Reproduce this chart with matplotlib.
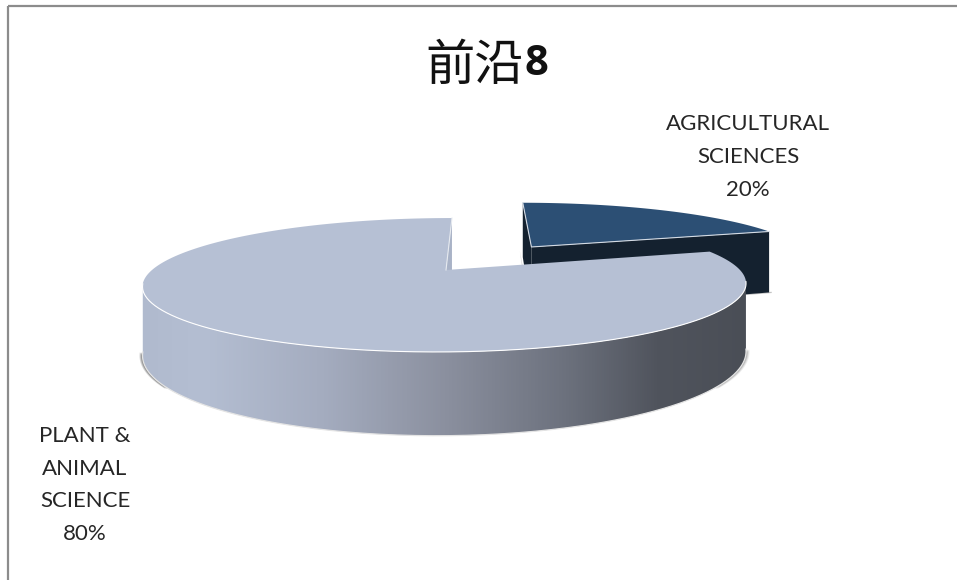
"""Exploded 3-D style pie of the 前沿8 subject split, drawn on a flat pixel canvas."""
from __future__ import annotations

import numpy as np
import matplotlib

matplotlib.use("Agg")
import matplotlib.pyplot as plt
from matplotlib.colors import LinearSegmentedColormap
from matplotlib.patches import Polygon

categories = ["AGRICULTURAL\nSCIENCES", "PLANT &\nANIMAL\nSCIENCE"]
shares = [20, 80]
title_zh = "前沿"
title_num = "8"

# projection of the pie disc onto the canvas (pixels)
X0, Y0 = 446.0, 270.0
RX, RY = 294.0, 63.6
SHEAR = -7.3
PERSP = 0.224
DEPTH = 65.0
EXPLODE = 0.51
SLICE_NUDGE = np.array([2.0, 1.0])
SLICE_EXTRA_DROP = np.array([0.0, 5.0])

TOP_DARK = "#2c4f74"
WALL_DARK = "#14212f"
TOP_LIGHT = "#b6c0d4"
NOTCH = "#a9b3c7"
FRAME = "#8c8c8c"
INK = "#262626"

LABEL_FONT = ["Lato", "DejaVu Sans"]
CJK_FONT = ["Noto Sans CJK SC", "DejaVu Sans"]

fig = plt.figure(figsize=(9.57, 5.8), dpi=100)
ax = fig.add_axes([0, 0, 1, 1])
ax.set_xlim(0, 957)
ax.set_ylim(580, 0)
ax.axis("off")


def project(u, v, drop=False):
    """Disc coordinates (u right, v toward viewer) to canvas pixels."""
    u, v = np.asarray(u, float), np.asarray(v, float)
    w = 1 - PERSP * v
    x = X0 + (RX * u + SHEAR * v) / w
    y = Y0 + RY * v / w
    if drop:
        y = y + DEPTH / w
    return np.column_stack([x, y])


def rim(t0, t1, cu=0.0, cv=0.0, n=240):
    """Rim points between two clockwise-from-top angles in degrees."""
    t = np.radians(np.linspace(t0, t1, n))
    return cu + np.sin(t), cv - np.cos(t)


def poly(pts, color, z, **kw):
    ax.add_patch(Polygon(pts, closed=True, fc=color, ec=kw.pop("ec", "none"), zorder=z, **kw))


small_end = 360.0 * shares[0] / sum(shares)
mid = np.radians(small_end / 2)
cu, cv = EXPLODE * np.sin(mid), -EXPLODE * np.cos(mid)

# ---- exploded slice --------------------------------------------------------
uu, vv = rim(0, small_end, cu, cv)
apex_top = project([cu], [cv]) + SLICE_NUDGE
apex_low = project([cu], [cv], drop=True) + SLICE_NUDGE + SLICE_EXTRA_DROP
rim_top = project(uu, vv) + SLICE_NUDGE
rim_low = project(uu, vv, drop=True) + SLICE_NUDGE + SLICE_EXTRA_DROP

poly(np.vstack([rim_top[:1] + [-3, 48], apex_low + [-3, 2], apex_low]), "#b8b8b8", 1, alpha=0.6)
poly(np.vstack([rim_top[:1], apex_top, apex_low, rim_low[:1]]), WALL_DARK, 2)
poly(np.vstack([apex_top, rim_top[-1:], rim_low[-1:], apex_low]), WALL_DARK, 2)
ax.plot(*np.vstack([rim_low[-1:] + [2, 0], apex_low]).T, color="#c4c4c4", lw=0.9, zorder=1.5)
poly(np.vstack([apex_top, rim_top]), TOP_DARK, 3)
ax.plot(*np.vstack([rim_top[:1], apex_top, rim_top[-1:]]).T, color="#d4dbe4", lw=0.8, zorder=4)

# ---- large slice: notch wall, gradient rim, top face -----------------------
uu, vv = rim(small_end, 360)
centre = project([0], [0])
centre_low = project([0], [0], drop=True)
main_top = project(uu, vv)
corner = project([0], [-1])
corner_low = project([0], [-1], drop=True)
poly(np.vstack([corner, centre, centre_low, corner_low]), NOTCH, 5)

front_u, front_v = rim(100, 258)
front_top = project(front_u, front_v)
front_low = project(front_u, front_v, drop=True)

# soft contact shadow peeking out around the lower rim
right_low = front_low[front_u > 0.80]
for off, alpha in [((3.5, 0.5), 0.10), ((2.5, 0.4), 0.16), ((1.5, 0.3), 0.25)]:
    poly(right_low + off, "#5a5a5a", 6, alpha=alpha)
left_low = front_low[front_u < -0.80]
for off, alpha in [((-3.0, 0.3), 0.22), ((-2.0, 0.3), 0.30), ((-1.0, 0.3), 0.4)]:
    poly(left_low + off, "#4a4a4a", 6, alpha=alpha)

wall = Polygon(np.vstack([front_top, front_low[::-1]]), closed=True, fc="none", ec="none", zorder=7)
ax.add_patch(wall)
ramp = LinearSegmentedColormap.from_list("rim", [
    (0.00, "#b0bace"), (0.10, "#b4bed2"), (0.30, "#a4acbf"), (0.50, "#8b909f"),
    (0.70, "#6c717d"), (0.85, "#50545d"), (1.00, "#4a4e56"),
])
im = ax.imshow(np.linspace(0, 1, 512)[None, :], cmap=ramp, aspect="auto",
               extent=(front_low[:, 0].min() - 2, front_low[:, 0].max() + 2, 450, 270), zorder=7)
im.set_clip_path(wall)
ax.set_xlim(0, 957)
ax.set_ylim(580, 0)
ax.plot(front_low[:, 0], front_low[:, 1], color="#e4e4e4", lw=0.9, zorder=8)
poly(np.vstack([centre, main_top]), TOP_LIGHT, 9)
ax.plot(front_top[:, 0], front_top[:, 1], color="white", lw=0.8, zorder=10)
ax.plot(*np.vstack([corner, centre]).T, color="#e6eaf0", lw=0.8, zorder=10)

# ---- text ------------------------------------------------------------------
ax.text(475, 80, title_zh, ha="center", va="baseline", fontsize=35.5,
        family=CJK_FONT, color="#111111", zorder=11)
ax.text(536.5, 75, title_num, ha="center", va="baseline", fontsize=30,
        family=["Open Sans", "DejaVu Sans"], fontweight="bold", color="#111111", zorder=11)
ax.text(748, 157, f"{categories[0]}\n{shares[0]}%", ha="center", va="center", fontsize=16,
        family=LABEL_FONT, color=INK, linespacing=1.8, zorder=11)
ax.text(85, 485, f"{categories[1]}\n{shares[1]}%", ha="center", va="center", fontsize=16,
        family=LABEL_FONT, color=INK, linespacing=1.8, zorder=11)

# chart frame only shows along the top and left
ax.plot([8, 957], [6, 6], color=FRAME, lw=1.6, zorder=12, solid_capstyle="butt")
ax.plot([8, 8], [6, 580], color=FRAME, lw=1.6, zorder=12, solid_capstyle="butt")

fig.savefig("out.png", dpi=100, facecolor="white")
